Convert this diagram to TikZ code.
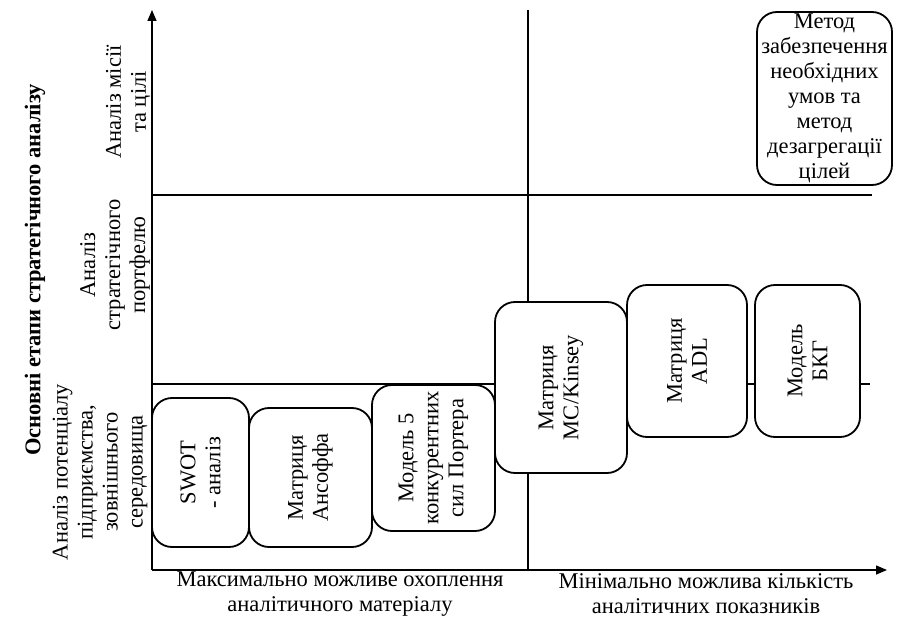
\documentclass[tikz,border=0pt]{standalone}
\usepackage{fontspec}
\setmainfont{Liberation Serif}
\usetikzlibrary{arrows.meta}
\newcommand{\myfs}{\fontsize{22.5}{25}\selectfont}
\begin{document}
\begin{tikzpicture}[x=1pt,y=-1pt,
  txt/.style={font=\myfs, align=center, inner sep=0pt},
  vtxt/.style={txt, rotate=90},
  mbox/.style={draw, line width=1.8pt, rounded corners=20pt, fill=white,
    font=\myfs, align=center, inner sep=0pt},
  vbox/.style={mbox, rotate=90},
  ln/.style={line width=1.5pt},
  axis/.style={line width=1.5pt, -{Triangle[length=11pt,width=9pt]}}]
\useasboundingbox (0,0) rectangle (906,618);
% frame coordinates
\coordinate (O) at (152,570);
\coordinate (Ytop) at (152,10);
\coordinate (Xend) at (887,570);
\coordinate (H1a) at (152,195);
\coordinate (H1b) at (872,195);
\coordinate (H2a) at (152,384);
\coordinate (H2b) at (870,384);
\coordinate (Va) at (528,10);
\coordinate (Vb) at (528,570);
% lines
\draw[ln] (H1a) -- (H1b);
\draw[ln] (H2a) -- (H2b);
\draw[ln] (Va) -- (Vb);
\draw[axis] (O) -- (Ytop);
\draw[axis] (O) -- (Xend);
% boxes
\node[vbox, minimum width=149pt, minimum height=97pt] (swot) at (200.5,472.5) {SWOT\\- аналіз};
\node[vbox, minimum width=139pt, minimum height=123pt] (ans) at (310.5,477.5) {Матриця\\Ансоффа};
\node[vbox, minimum width=146pt, minimum height=123pt] (port) at (433.5,458) {Модель 5\\конкурентних\\сил Портера};
\node[vbox, minimum width=171pt, minimum height=132pt] (mck) at (561,387.5) {Матриця\\MC/Kinsey};
\node[vbox, minimum width=152pt, minimum height=120pt] (adl) at (687,361) {Матриця\\ADL};
\node[vbox, minimum width=152pt, minimum height=105pt] (bkg) at (807.5,361) {Модель\\БКГ};
\node[mbox, minimum width=135pt, minimum height=173pt] (met) at (824.5,98.5) {Метод\\забезпечення\\необхідних\\умов та\\метод\\дезагрегації\\цілей};
% axis labels
\node[vtxt, font=\myfs\bfseries] (title) at (35,270) {Основні етапи стратегічного аналізу};
\node[vtxt] (s1) at (100,472) {Аналіз потенціалу\\підприємства,\\зовнішнього\\середовища};
\node[vtxt] (s2) at (115,265) {Аналіз\\стратегічного\\портфелю};
\node[vtxt] (s3) at (128,102) {Аналіз місії\\та цілі};
\node[txt] (x1) at (340,594) {Максимально можливе охоплення\\аналітичного матеріалу};
\node[txt] (x2) at (706,594) {Мінімально можлива кількість\\аналітичних показників};
\end{tikzpicture}
\end{document}
